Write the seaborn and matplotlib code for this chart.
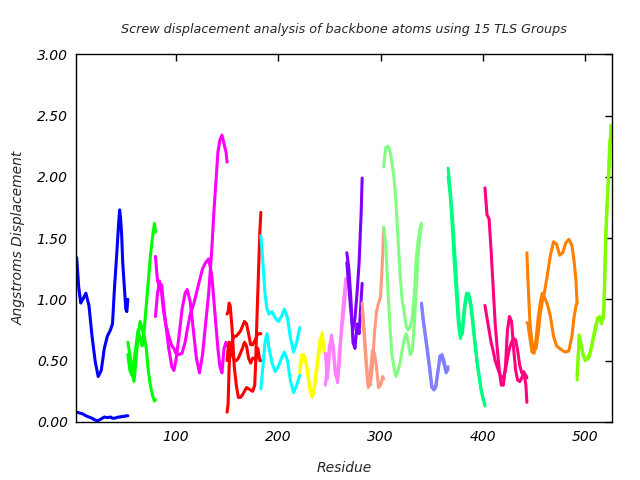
import matplotlib
matplotlib.use("Agg")
import matplotlib.pyplot as plt
import seaborn as sns

# residue positions and screw displacement values per TLS group (two curves each)
g1_res = [3, 5, 7, 9, 12, 15, 18, 21, 24, 27, 30, 33, 36, 38, 40, 42, 44, 45, 46, 47, 48, 50, 51, 52, 53]
g1_a = [1.34, 1.1, 0.97, 1.0, 1.05, 0.95, 0.7, 0.5, 0.37, 0.42, 0.6, 0.7, 0.75, 0.8, 1.1, 1.35, 1.62, 1.73, 1.65, 1.52, 1.3, 1.05, 0.92, 0.9, 1.0]
g1_b = [0.08, 0.075, 0.07, 0.065, 0.05, 0.04, 0.03, 0.015, 0.01, 0.025, 0.04, 0.035, 0.04, 0.03, 0.03, 0.035, 0.04, 0.04, 0.04, 0.045, 0.045, 0.045, 0.05, 0.05, 0.05]

g2_res = [53, 55, 57, 59, 61, 63, 65, 67, 69, 71, 73, 75, 77, 79, 80]
g2_a = [0.65, 0.55, 0.42, 0.33, 0.5, 0.7, 0.82, 0.76, 0.7, 0.6, 0.42, 0.3, 0.22, 0.17, 0.18]
g2_b = [0.55, 0.42, 0.38, 0.5, 0.62, 0.75, 0.68, 0.62, 0.75, 0.95, 1.15, 1.35, 1.5, 1.62, 1.55]

g3_res = [80, 82, 84, 86, 88, 90, 93, 96, 98, 100, 103, 106, 109, 111, 114, 117, 120, 123, 126, 129, 132, 135, 137, 139, 141, 143, 145, 147, 149, 150]
g3_a = [1.35, 1.15, 1.1, 1.12, 0.95, 0.8, 0.6, 0.45, 0.42, 0.5, 0.7, 0.92, 1.05, 1.08, 0.98, 0.75, 0.52, 0.40, 0.55, 0.8, 1.05, 1.4, 1.7, 1.95, 2.2, 2.3, 2.34, 2.27, 2.2, 2.12]
g3_b = [0.86, 1.05, 1.15, 1.05, 0.9, 0.8, 0.7, 0.62, 0.6, 0.56, 0.55, 0.56, 0.65, 0.75, 0.88, 0.95, 1.05, 1.15, 1.25, 1.3, 1.33, 1.2, 1.0, 0.8, 0.6, 0.45, 0.40, 0.6, 0.65, 0.62]

g4_res = [150, 151, 152, 153, 155, 157, 159, 161, 163, 165, 167, 169, 171, 173, 175, 177, 178, 179, 180, 181, 182, 183]
g4_a = [0.88, 0.90, 0.97, 0.95, 0.75, 0.45, 0.3, 0.2, 0.2, 0.22, 0.25, 0.28, 0.27, 0.26, 0.25, 0.3, 0.5, 0.8, 1.05, 1.3, 1.55, 1.71]
g4_b = [0.08, 0.15, 0.45, 0.6, 0.66, 0.7, 0.7, 0.72, 0.74, 0.78, 0.82, 0.8, 0.72, 0.63, 0.63, 0.66, 0.68, 0.7, 0.72, 0.72, 0.72, 0.72]
g4_c = [0.5, 0.6, 0.65, 0.6, 0.55, 0.5, 0.5, 0.52, 0.56, 0.6, 0.65, 0.62, 0.52, 0.48, 0.52, 0.52, 0.5, 0.55, 0.6, 0.55, 0.5, 0.5]

g5_res = [183, 185, 187, 189, 191, 194, 197, 200, 203, 206, 209, 212, 215, 218, 221]
g5_a = [1.52, 1.3, 1.05, 0.92, 0.88, 0.9, 0.85, 0.82, 0.86, 0.92, 0.85, 0.68, 0.57, 0.65, 0.77]
g5_b = [0.27, 0.45, 0.65, 0.72, 0.6, 0.48, 0.41, 0.45, 0.52, 0.57, 0.5, 0.33, 0.24, 0.3, 0.38]

g6_res = [221, 223, 225, 227, 229, 231, 233, 235, 237, 239, 241, 243, 245]
g6_a = [0.40, 0.52, 0.55, 0.5, 0.4, 0.28, 0.2, 0.25, 0.38, 0.5, 0.62, 0.73, 0.56]
g6_b = [0.45, 0.55, 0.53, 0.48, 0.38, 0.25, 0.22, 0.28, 0.42, 0.55, 0.68, 0.7, 0.6]

g7_res = [246, 248, 250, 252, 254, 256, 258, 260, 262, 264, 266, 267]
g7_a = [0.56, 0.35, 0.55, 0.71, 0.6, 0.4, 0.32, 0.5, 0.81, 1.0, 1.17, 1.17]
g7_b = [0.3, 0.45, 0.62, 0.68, 0.55, 0.38, 0.35, 0.6, 0.75, 0.9, 1.1, 1.15]

g8_res = [267, 269, 271, 273, 275, 277, 279, 281, 282]
g8_a = [1.38, 1.25, 1.0, 0.65, 0.6, 0.8, 0.72, 1.0, 1.13]
g8_b = [1.3, 1.1, 0.9, 0.75, 0.85, 1.05, 1.3, 1.7, 1.99]

g9_res = [282, 284, 286, 288, 290, 292, 294, 296, 298, 300, 302, 303]
g9_a = [0.97, 0.75, 0.5, 0.3, 0.3, 0.45, 0.72, 0.9, 0.97, 1.02, 1.35, 1.58]
g9_b = [0.9, 0.7, 0.45, 0.28, 0.4, 0.58, 0.56, 0.45, 0.28, 0.3, 0.37, 0.35]

g10_res = [303, 305, 307, 309, 311, 313, 315, 317, 319, 321, 323, 325, 327, 329, 331, 333, 335, 337, 339, 340]
g10_a = [2.08, 2.24, 2.25, 2.22, 2.12, 2.0, 1.8, 1.5, 1.21, 1.0, 0.9, 0.78, 0.75, 0.78, 0.85, 1.05, 1.35, 1.5, 1.6, 1.62]
g10_b = [1.59, 1.45, 1.1, 0.8, 0.55, 0.45, 0.37, 0.42, 0.48, 0.58, 0.67, 0.72, 0.65, 0.55, 0.58, 0.8, 1.1, 1.4, 1.55, 1.6]

g11_res = [340, 342, 344, 346, 348, 350, 352, 354, 356, 358, 360, 362, 364, 366]
g11_a = [0.97, 0.82, 0.7, 0.58, 0.45, 0.3, 0.26, 0.28, 0.4, 0.52, 0.55, 0.5, 0.42, 0.45]
g11_b = [0.95, 0.8, 0.68, 0.55, 0.42, 0.28, 0.27, 0.3, 0.42, 0.54, 0.52, 0.47, 0.40, 0.43]

g12_res = [366, 368, 370, 372, 374, 376, 378, 380, 382, 384, 386, 388, 390, 392, 394, 396, 398, 400, 402]
g12_a = [2.07, 1.9, 1.7, 1.45, 1.18, 0.9, 0.7, 0.72, 0.9, 1.03, 1.05, 0.98, 0.85, 0.68, 0.52, 0.4, 0.28, 0.2, 0.13]
g12_b = [2.0, 1.85, 1.6, 1.3, 1.05, 0.8, 0.68, 0.78, 0.95, 1.05, 1.03, 0.95, 0.8, 0.65, 0.5, 0.38, 0.27, 0.19, 0.15]

g13_res = [402, 404, 406, 408, 410, 412, 414, 416, 418, 420, 422, 424, 426, 428, 430, 432, 434, 436, 438, 440, 442, 443]
g13_a = [1.91, 1.69, 1.66, 1.4, 1.1, 0.8, 0.6, 0.42, 0.3, 0.3, 0.45, 0.75, 0.86, 0.82, 0.6, 0.42, 0.34, 0.33, 0.36, 0.41, 0.3, 0.16]
g13_b = [0.95, 0.85, 0.75, 0.65, 0.58, 0.5, 0.45, 0.4, 0.36, 0.36, 0.42, 0.52, 0.6, 0.65, 0.68, 0.67, 0.58, 0.46, 0.4, 0.4, 0.38, 0.36]

g14_res = [443, 444, 446, 448, 450, 452, 454, 456, 458, 460, 463, 466, 469, 472, 475, 478, 481, 484, 487, 489, 491, 492]
g14_a = [1.38, 1.16, 0.8, 0.65, 0.58, 0.6, 0.72, 0.88, 0.98, 1.05, 1.2, 1.36, 1.47, 1.45, 1.36, 1.38, 1.46, 1.49, 1.44, 1.32, 1.15, 0.97]
g14_b = [0.81, 0.8, 0.68, 0.57, 0.56, 0.68, 0.85, 0.97, 1.05, 1.02, 0.96, 0.86, 0.7, 0.62, 0.6, 0.58, 0.57, 0.58, 0.7, 0.85, 0.95, 0.97]

g15_res = [492, 493, 494, 496, 498, 500, 502, 504, 506, 508, 510, 512, 514, 516, 518, 519, 520, 521, 522, 523, 524, 525]
g15_a = [0.34, 0.5, 0.71, 0.64, 0.55, 0.51, 0.51, 0.53, 0.6, 0.68, 0.75, 0.85, 0.86, 0.82, 0.85, 1.1, 1.45, 1.65, 1.85, 2.0, 2.2, 2.42]
g15_b = [0.38, 0.52, 0.68, 0.62, 0.54, 0.5, 0.52, 0.55, 0.62, 0.7, 0.78, 0.83, 0.84, 0.8, 0.9, 1.2, 1.55, 1.75, 1.9, 2.1, 2.3, 2.3]

group_colors = ['#0000ff', '#00ff00', '#ff00ff', '#ff0000', '#00ffff',
                '#ffff00', '#ff80ff', '#8000ff', '#ff9980', '#80ff80',
                '#8080ff', '#00ff80', '#ff0080', '#ff8000', '#80ff00']

groups = [
    (g1_res, [g1_a, g1_b]),
    (g2_res, [g2_a, g2_b]),
    (g3_res, [g3_a, g3_b]),
    (g4_res, [g4_a, g4_b, g4_c]),
    (g5_res, [g5_a, g5_b]),
    (g6_res, [g6_a, g6_b]),
    (g7_res, [g7_a, g7_b]),
    (g8_res, [g8_a, g8_b]),
    (g9_res, [g9_a, g9_b]),
    (g10_res, [g10_a, g10_b]),
    (g11_res, [g11_a, g11_b]),
    (g12_res, [g12_a, g12_b]),
    (g13_res, [g13_a, g13_b]),
    (g14_res, [g14_a, g14_b]),
    (g15_res, [g15_a, g15_b]),
]

sns.set_style("white")
plt.rcParams['font.family'] = ['DejaVu Sans']

fig = plt.figure(figsize=(6.4, 4.8), dpi=100)
ax = fig.add_axes([0.119, 0.121, 0.837, 0.766])

for (res, curves), color in zip(groups, group_colors):
    for vals in curves:
        sns.lineplot(x=res, y=vals, color=color, linewidth=2.2,
                     sort=False, estimator=None, ax=ax)

ax.set_xlim(2.5, 526)
ax.set_ylim(0, 3.0)
ax.set_xticks([100, 200, 300, 400, 500])
ax.set_yticks([0, 0.5, 1.0, 1.5, 2.0, 2.5, 3.0])
ax.set_yticklabels([f"{v:.2f}" for v in [0, 0.5, 1.0, 1.5, 2.0, 2.5, 3.0]])
ax.tick_params(direction='in', top=True, right=True, length=5, width=1,
               labelsize=10, colors='black', pad=6)
for lab in ax.get_xticklabels() + ax.get_yticklabels():
    lab.set_fontstyle('italic')
for sp in ax.spines.values():
    sp.set_color('black')
    sp.set_linewidth(1)

ax.set_xlabel('Residue', fontstyle='italic', fontsize=10, labelpad=12)
ax.set_ylabel('Angstroms Displacement', fontstyle='italic', fontsize=10, labelpad=8)
ax.set_title('Screw displacement analysis of backbone atoms using 15 TLS Groups',
             fontstyle='italic', fontsize=9.2, pad=15)

fig.savefig('out.png', dpi=100)
